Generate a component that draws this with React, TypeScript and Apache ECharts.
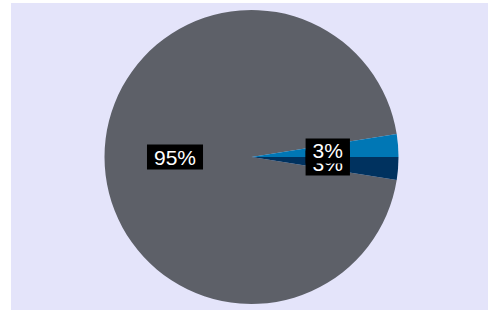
import React, { useEffect, useRef } from "react";
import * as echarts from "echarts";

const categories = ["Other", "Segment B", "Segment A"];
const values = [95, 2.5, 2.5];
const colors = ["#5d6068", "#00325f", "#0077b5"];

export default function App() {
  const ref = useRef<HTMLDivElement>(null);
  useEffect(() => {
    if (!ref.current) return;
    const chart = echarts.init(ref.current, null, { renderer: "svg" });
    chart.setOption({
      animation: false,
      backgroundColor: "#e4e4fa",
      series: [
        {
          type: "pie",
          center: [240.5, 154],
          radius: 147,
          startAngle: 9,
          clockwise: false,
          silent: true,
          avoidLabelOverlap: false,
          labelLayout: { hideOverlap: false },
          data: categories.map((c, i) => ({
            name: c,
            value: values[i],
            itemStyle: { color: colors[i] },
          })),
          label: {
            show: true,
            position: "inside",
            formatter: (p: any) => Math.round(p.percent) + "%",
            color: "#ffffff",
            backgroundColor: "#000000",
            fontFamily: "Liberation Sans, Arial, sans-serif",
            fontSize: 21,
            padding: [3, 7, 1, 7],
          },
          labelLine: { show: false },
          emphasis: { disabled: true },
        },
      ],
    });
    return () => chart.dispose();
  }, []);
  return (
    <div style={{ position: "absolute", left: 0, top: 0, width: 488, height: 310, background: "#ffffff" }}>
      <div ref={ref} style={{ position: "absolute", left: 11, top: 3, width: 477, height: 307 }} />
    </div>
  );
}
